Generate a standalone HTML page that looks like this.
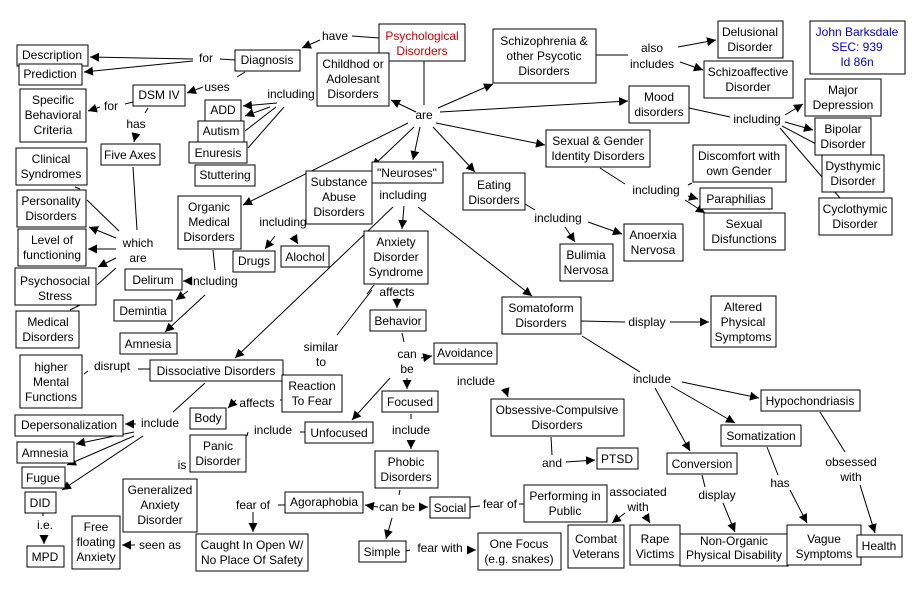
<!DOCTYPE html>
<html><head><meta charset="utf-8"><style>
html,body{margin:0;padding:0;background:#fff;width:920px;height:591px;overflow:hidden}
svg{display:block}
text{font-family:"Liberation Sans",Arial,sans-serif;font-size:12px;fill:#000;text-anchor:middle}
rect{fill:#fff;stroke:#000;stroke-width:1}
line{stroke:#000;stroke-width:1}
.a{marker-end:url(#ar)}
</style></head><body>
<svg width="920" height="591" viewBox="0 0 920 591">
<defs><marker id="ar" viewBox="0 0 10 10" refX="10" refY="5" markerWidth="9" markerHeight="9" markerUnits="userSpaceOnUse" orient="auto"><path d="M0,0L10,5L0,10z" fill="#000"/></marker></defs>
<g>
<line x1="379" y1="38" x2="352" y2="36"/><line class="a" x1="320" y1="40" x2="302" y2="48"/>
<line x1="424" y1="61" x2="424" y2="105"/>
<line class="a" x1="416" y1="112" x2="391" y2="100"/>
<line class="a" x1="438" y1="108" x2="493" y2="84"/>
<line class="a" x1="440" y1="112" x2="628" y2="101"/>
<line class="a" x1="436" y1="123" x2="545" y2="145"/>
<line class="a" x1="433" y1="127" x2="475" y2="172"/>
<line class="a" x1="420" y1="127" x2="413" y2="160"/>
<line class="a" x1="414" y1="127" x2="372" y2="167"/>
<line class="a" x1="408" y1="123" x2="243" y2="205"/>
<line x1="235" y1="60" x2="220" y2="59"/><line class="a" x1="193" y1="59" x2="90" y2="57"/><line class="a" x1="193" y1="61" x2="84" y2="72"/>
<line x1="245" y1="72" x2="237" y2="77"/><line class="a" x1="203" y1="87" x2="187" y2="93"/>
<line class="a" x1="277" y1="103" x2="243" y2="106"/><line class="a" x1="270" y1="107" x2="245" y2="116"/><line x1="276" y1="107" x2="245" y2="131"/><line x1="284" y1="107" x2="248" y2="148"/>
<line x1="133" y1="102" x2="125" y2="104"/><line class="a" x1="100" y1="107" x2="88" y2="111"/>
<line x1="148" y1="108" x2="145" y2="113"/><line class="a" x1="136" y1="133" x2="134" y2="142"/>
<line x1="133" y1="167" x2="137" y2="230"/>
<line x1="119" y1="231" x2="87" y2="200"/><line class="a" x1="116" y1="238" x2="89" y2="227"/><line class="a" x1="116" y1="249" x2="88" y2="249"/><line class="a" x1="116" y1="258" x2="98" y2="267"/><line x1="116" y1="268" x2="97" y2="285"/><line x1="80" y1="305" x2="70" y2="310"/><line x1="75" y1="187" x2="80" y2="189"/>
<line x1="213" y1="250" x2="215" y2="270"/><line class="a" x1="190" y1="281" x2="183" y2="281"/><line class="a" x1="188" y1="291" x2="176" y2="300"/><line class="a" x1="205" y1="295" x2="165" y2="332"/>
<line class="a" x1="275" y1="236" x2="265" y2="249"/><line class="a" x1="293" y1="236" x2="298" y2="244"/>
<line class="a" x1="404" y1="206" x2="402" y2="229"/><line class="a" x1="393" y1="207" x2="235" y2="358"/><line class="a" x1="418" y1="207" x2="532" y2="296"/>
<line x1="374" y1="285" x2="367" y2="294"/><line class="a" x1="397" y1="298" x2="397" y2="308"/>
<line x1="372" y1="290" x2="337" y2="335"/>
<line x1="402" y1="333" x2="404" y2="342"/><line class="a" x1="421" y1="358" x2="432" y2="356"/><line class="a" x1="407" y1="378" x2="407" y2="389"/><line class="a" x1="390" y1="378" x2="352" y2="420"/>
<line class="a" x1="505" y1="388" x2="508" y2="397"/>
<line x1="411" y1="414" x2="411" y2="419"/><line class="a" x1="411" y1="440" x2="411" y2="449"/>
<line x1="305" y1="432" x2="300" y2="432"/><line x1="248" y1="432" x2="247" y2="436"/>
<line x1="282" y1="400" x2="280" y2="400"/><line class="a" x1="236" y1="400" x2="228" y2="408"/>
<line x1="400" y1="490" x2="399" y2="495"/><line class="a" x1="378" y1="507" x2="365" y2="505"/><line class="a" x1="419" y1="507" x2="428" y2="507"/><line class="a" x1="392" y1="518" x2="386" y2="539"/>
<line x1="285" y1="505" x2="278" y2="505"/><line class="a" x1="253" y1="512" x2="253" y2="532"/>
<line x1="470" y1="507" x2="480" y2="506"/><line x1="519" y1="504" x2="524" y2="504"/>
<line x1="406" y1="551" x2="410" y2="550"/><line class="a" x1="469" y1="550" x2="476" y2="550"/>
<line x1="150" y1="369" x2="138" y2="369"/><line x1="88" y1="371" x2="84" y2="374"/>
<line x1="205" y1="383" x2="173" y2="412"/><line class="a" x1="136" y1="424" x2="125" y2="424"/><line class="a" x1="134" y1="432" x2="76" y2="444"/><line class="a" x1="134" y1="436" x2="67" y2="465"/><line class="a" x1="143" y1="436" x2="62" y2="490"/>
<line x1="43" y1="513" x2="43" y2="516"/><line class="a" x1="44" y1="536" x2="44" y2="544"/>
<line class="a" x1="135" y1="545" x2="122" y2="545"/>
<line x1="596" y1="55" x2="628" y2="55"/><line class="a" x1="678" y1="47" x2="716" y2="40"/><line class="a" x1="680" y1="62" x2="703" y2="70"/>
<line x1="689" y1="108" x2="730" y2="117"/><line class="a" x1="785" y1="115" x2="803" y2="104"/><line class="a" x1="785" y1="122" x2="813" y2="130"/><line class="a" x1="782" y1="126" x2="835" y2="154"/><line x1="780" y1="128" x2="840" y2="198"/>
<line x1="600" y1="168" x2="625" y2="184"/><line x1="688" y1="185" x2="692" y2="183"/><line class="a" x1="688" y1="196" x2="698" y2="199"/><line class="a" x1="685" y1="200" x2="705" y2="213"/>
<line x1="525" y1="204" x2="535" y2="210"/><line class="a" x1="565" y1="227" x2="575" y2="242"/><line class="a" x1="588" y1="222" x2="622" y2="234"/>
<line x1="581" y1="321" x2="625" y2="322"/><line class="a" x1="670" y1="322" x2="709" y2="322"/>
<line x1="582" y1="336" x2="640" y2="372"/><line class="a" x1="682" y1="382" x2="759" y2="398"/><line class="a" x1="671" y1="386" x2="735" y2="423"/><line class="a" x1="655" y1="388" x2="690" y2="451"/>
<line x1="551" y1="437" x2="552" y2="455"/><line class="a" x1="566" y1="462" x2="595" y2="460"/>
<line class="a" x1="625" y1="513" x2="612" y2="523"/><line class="a" x1="645" y1="515" x2="650" y2="523"/>
<line x1="702" y1="475" x2="705" y2="487"/><line class="a" x1="723" y1="503" x2="735" y2="532"/>
<line x1="767" y1="447" x2="778" y2="475"/><line class="a" x1="790" y1="490" x2="807" y2="523"/>
<line x1="820" y1="412" x2="845" y2="452"/><line class="a" x1="860" y1="485" x2="875" y2="533"/>
</g>
<g>
<text x="335" y="40">have</text><text x="206" y="62">for</text><text x="217" y="91">uses</text><text x="291" y="98">including</text>
<text x="111" y="110">for</text><text x="136" y="128">has</text><text x="138" y="247">which</text><text x="138" y="262">are</text>
<text x="214" y="285">including</text><text x="283" y="226">including</text><text x="424" y="119">are</text><text x="403" y="199">including</text>
<text x="397" y="296">affects</text><text x="321" y="351">similar</text><text x="321" y="366">to</text><text x="407" y="358">can</text><text x="407" y="373">be</text>
<text x="476" y="385">include</text><text x="411" y="434">include</text><text x="273" y="434">include</text><text x="257" y="407">affects</text>
<text x="112" y="370">disrupt</text><text x="160" y="427">include</text><text x="182" y="469">is</text><text x="45" y="529">i.e.</text><text x="160" y="549">seen as</text>
<text x="253" y="509">fear of</text><text x="397" y="511">can be</text><text x="500" y="508">fear of</text><text x="440" y="552">fear with</text>
<text x="652" y="52">also</text><text x="652" y="68">includes</text><text x="757" y="123">including</text><text x="656" y="194">including</text><text x="558" y="222">including</text>
<text x="647" y="326">display</text><text x="652" y="383">include</text><text x="552" y="467">and</text><text x="638" y="496">associated</text><text x="638" y="511">with</text>
<text x="717" y="499">display</text><text x="780" y="487">has</text><text x="851" y="466">obsessed</text><text x="851" y="481">with</text>
</g>
<g>
<rect x="379" y="24" width="86" height="37"/><text x="422" y="40" style="fill:#c00">Psychological</text><text x="422" y="55" style="fill:#c00">Disorders</text>
<rect x="317" y="53" width="72" height="53"/><text x="353" y="68">Childhod or</text><text x="353" y="83">Adolesant</text><text x="353" y="98">Disorders</text>
<rect x="235" y="50" width="65" height="21"/><text x="267" y="64">Diagnosis</text>
<rect x="17" y="45" width="71" height="21"/><text x="52" y="59">Description</text>
<rect x="19" y="64" width="63" height="21"/><text x="50" y="78">Prediction</text>
<rect x="133" y="85" width="52" height="21"/><text x="159" y="99">DSM IV</text>
<rect x="20" y="89" width="66" height="53"/><text x="53" y="104">Specific</text><text x="53" y="119">Behavioral</text><text x="53" y="134">Criteria</text>
<rect x="101" y="144" width="59" height="21"/><text x="130" y="159">Five Axes</text>
<rect x="205" y="100" width="36" height="21"/><text x="223" y="114">ADD</text>
<rect x="198" y="121" width="46" height="21"/><text x="221" y="135">Autism</text>
<rect x="189" y="142" width="58" height="21"/><text x="218" y="157">Enuresis</text>
<rect x="195" y="165" width="60" height="21"/><text x="225" y="179">Stuttering</text>
<rect x="16" y="148" width="71" height="37"/><text x="51" y="163">Clinical</text><text x="51" y="178">Syndromes</text>
<rect x="17" y="190" width="69" height="37"/><text x="51" y="205">Personality</text><text x="51" y="220">Disorders</text>
<rect x="18" y="229" width="68" height="37"/><text x="52" y="244">Level of</text><text x="52" y="259">functioning</text>
<rect x="15" y="268" width="81" height="37"/><text x="55" y="285">Psychosocial</text><text x="55" y="300">Stress</text>
<rect x="16" y="311" width="63" height="37"/><text x="48" y="326">Medical</text><text x="48" y="341">Disorders</text>
<rect x="125" y="269" width="57" height="21"/><text x="153" y="284">Delirum</text>
<rect x="114" y="300" width="58" height="21"/><text x="143" y="315">Demintia</text>
<rect x="120" y="333" width="57" height="21"/><text x="148" y="348">Amnesia</text>
<rect x="178" y="196" width="63" height="53"/><text x="209" y="211">Organic</text><text x="209" y="226">Medical</text><text x="209" y="241">Disorders</text>
<rect x="233" y="251" width="42" height="21"/><text x="254" y="265">Drugs</text>
<rect x="281" y="246" width="48" height="21"/><text x="305" y="261">Alochol</text>
<rect x="306" y="171" width="66" height="53"/><text x="339" y="186">Substance</text><text x="339" y="201">Abuse</text><text x="339" y="216">Disorders</text>
<rect x="372" y="162" width="71" height="21"/><text x="407" y="177">"Neuroses"</text>
<rect x="364" y="231" width="64" height="53"/><text x="396" y="246">Anxiety</text><text x="396" y="261">Disorder</text><text x="396" y="276">Syndrome</text>
<rect x="370" y="310" width="56" height="21"/><text x="398" y="325">Behavior</text>
<rect x="434" y="343" width="63" height="21"/><text x="465" y="357">Avoidance</text>
<rect x="382" y="391" width="56" height="21"/><text x="410" y="406">Focused</text>
<rect x="305" y="422" width="68" height="21"/><text x="339" y="437">Unfocused</text>
<rect x="375" y="451" width="63" height="37"/><text x="406" y="466">Phobic</text><text x="406" y="481">Disorders</text>
<rect x="430" y="497" width="40" height="21"/><text x="450" y="512">Social</text>
<rect x="359" y="541" width="47" height="21"/><text x="382" y="556">Simple</text>
<rect x="478" y="533" width="83" height="37"/><text x="519" y="548">One Focus</text><text x="519" y="563">(e.g. snakes)</text>
<rect x="285" y="492" width="78" height="21"/><text x="324" y="506">Agoraphobia</text>
<rect x="196" y="534" width="112" height="37"/><text x="252" y="549">Caught In Open W/</text><text x="252" y="564">No Place Of Safety</text>
<rect x="123" y="479" width="74" height="53"/><text x="160" y="494">Generalized</text><text x="160" y="509">Anxiety</text><text x="160" y="524">Disorder</text>
<rect x="72" y="516" width="48" height="53"/><text x="96" y="531">Free</text><text x="96" y="546">floating</text><text x="96" y="561">Anxiety</text>
<rect x="25" y="492" width="31" height="21"/><text x="40" y="507">DID</text>
<rect x="27" y="546" width="37" height="21"/><text x="45" y="561">MPD</text>
<rect x="22" y="467" width="43" height="21"/><text x="43" y="482">Fugue</text>
<rect x="17" y="442" width="57" height="21"/><text x="45" y="457">Amnesia</text>
<rect x="15" y="415" width="108" height="21"/><text x="69" y="429">Depersonalization</text>
<rect x="20" y="355" width="62" height="53"/><text x="51" y="371">higher</text><text x="51" y="386">Mental</text><text x="51" y="401">Functions</text>
<rect x="150" y="360" width="133" height="21"/><text x="216" y="375">Dissociative Disorders</text>
<rect x="282" y="375" width="60" height="37"/><text x="312" y="390">Reaction</text><text x="312" y="405">To Fear</text>
<rect x="190" y="408" width="36" height="21"/><text x="208" y="422">Body</text>
<rect x="190" y="435" width="56" height="37"/><text x="218" y="450">Panic</text><text x="218" y="465">Disorder</text>
<rect x="463" y="173" width="62" height="37"/><text x="494" y="189">Eating</text><text x="494" y="204">Disorders</text>
<rect x="493" y="29" width="103" height="54"/><text x="544" y="45">Schizophrenia &amp;</text><text x="544" y="60">other Psycotic</text><text x="544" y="75">Disorders</text>
<rect x="718" y="21" width="65" height="37"/><text x="750" y="36">Delusional</text><text x="750" y="51">Disorder</text>
<rect x="704" y="61" width="89" height="37"/><text x="748" y="76">Schizoaffective</text><text x="748" y="91">Disorder</text>
<rect x="810" y="21" width="95" height="53"/><text x="857" y="36" style="fill:#00c">John Barksdale</text><text x="857" y="51" style="fill:#00c">SEC: 939</text><text x="857" y="66" style="fill:#00c">Id 86n</text>
<rect x="629" y="86" width="60" height="37"/><text x="659" y="101">Mood</text><text x="659" y="116">disorders</text>
<rect x="805" y="79" width="76" height="37"/><text x="843" y="94">Major</text><text x="843" y="109">Depression</text>
<rect x="815" y="118" width="56" height="37"/><text x="843" y="133">Bipolar</text><text x="843" y="148">Disorder</text>
<rect x="822" y="155" width="62" height="37"/><text x="853" y="170">Dysthymic</text><text x="853" y="185">Disorder</text>
<rect x="819" y="198" width="73" height="37"/><text x="855" y="213">Cyclothymic</text><text x="855" y="228">Disorder</text>
<rect x="546" y="130" width="104" height="37"/><text x="598" y="145">Sexual &amp; Gender</text><text x="598" y="160">Identity Disorders</text>
<rect x="693" y="145" width="93" height="37"/><text x="739" y="160">Discomfort with</text><text x="739" y="175">own Gender</text>
<rect x="700" y="188" width="72" height="21"/><text x="736" y="203">Paraphilias</text>
<rect x="704" y="213" width="81" height="37"/><text x="744" y="228">Sexual</text><text x="744" y="243">Disfunctions</text>
<rect x="560" y="244" width="53" height="37"/><text x="586" y="259">Bulimia</text><text x="586" y="274">Nervosa</text>
<rect x="624" y="224" width="59" height="37"/><text x="653" y="239">Anoerxia</text><text x="653" y="254">Nervosa</text>
<rect x="502" y="297" width="79" height="37"/><text x="541" y="312">Somatoform</text><text x="541" y="327">Disorders</text>
<rect x="711" y="296" width="65" height="51"/><text x="743" y="311">Altered</text><text x="743" y="326">Physical</text><text x="743" y="341">Symptoms</text>
<rect x="761" y="390" width="99" height="21"/><text x="810" y="405">Hypochondriasis</text>
<rect x="721" y="425" width="80" height="21"/><text x="761" y="440">Somatization</text>
<rect x="491" y="399" width="133" height="37"/><text x="557" y="414">Obsessive-Compulsive</text><text x="557" y="429">Disorders</text>
<rect x="597" y="448" width="41" height="21"/><text x="617" y="463">PTSD</text>
<rect x="667" y="453" width="70" height="21"/><text x="702" y="468">Conversion</text>
<rect x="524" y="485" width="83" height="37"/><text x="565" y="500">Performing in</text><text x="565" y="515">Public</text>
<rect x="568" y="525" width="56" height="43"/><text x="596" y="543">Combat</text><text x="596" y="558">Veterans</text>
<rect x="630" y="525" width="50" height="40"/><text x="655" y="543">Rape</text><text x="655" y="558">Victims</text>
<rect x="680" y="534" width="108" height="32"/><text x="734" y="545">Non-Organic</text><text x="734" y="559">Physical Disability</text>
<rect x="787" y="525" width="74" height="40"/><text x="824" y="543">Vague</text><text x="824" y="558">Symptoms</text>
<rect x="857" y="535" width="45" height="22"/><text x="879" y="550">Health</text>
</g>
</svg>
</body></html>
